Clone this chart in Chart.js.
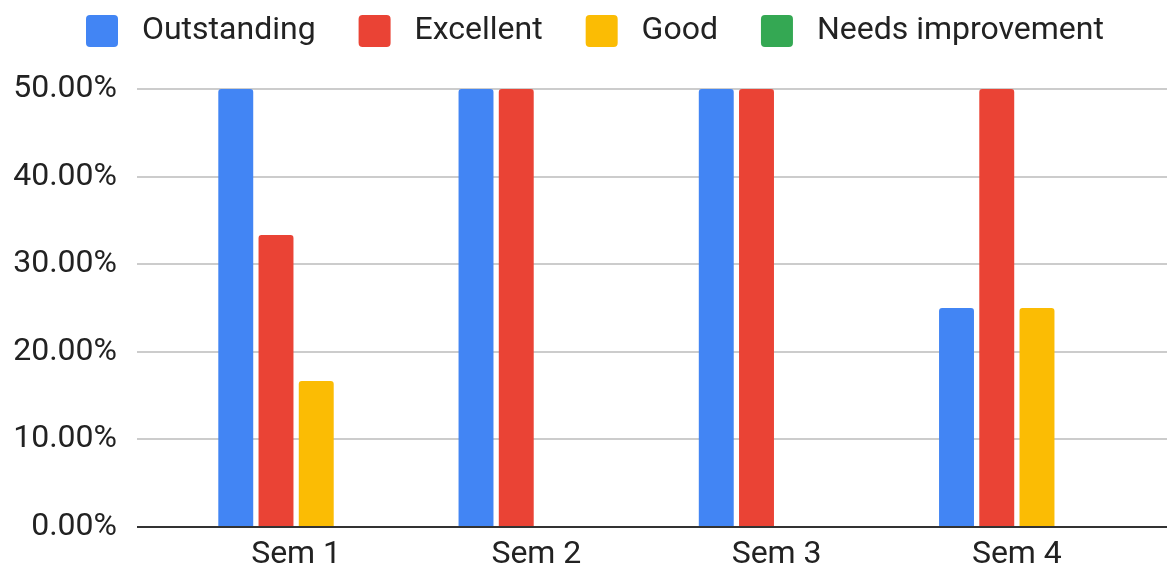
<!DOCTYPE html>
<html>
<head>
<meta charset="utf-8">
<script src="https://cdn.jsdelivr.net/npm/chart.js@4.4.0/dist/chart.umd.min.js"></script>
<style>
  html, body { margin: 0; padding: 0; background: #fff; }
  canvas { display: block; }
</style>
</head>
<body>
<canvas id="semChart" width="1167" height="571"></canvas>
<script>
// data
const categories = ['Sem 1', 'Sem 2', 'Sem 3', 'Sem 4'];
const seriesNames = ['Outstanding', 'Excellent', 'Good', 'Needs improvement'];
const outstanding = [50, 50, 50, 25];
const excellent = [33.33, 50, 50, 50];
const good = [16.67, 0, 0, 25];
const needsImprovement = [0, 0, 0, 0];
const yTicks = [0, 10, 20, 30, 40, 50];

const colors = ['#4285f4', '#ea4335', '#fbbc04', '#34a853'];
const FONT = 'Roboto, Arial, sans-serif';

// gridlines run wider than the plot, like the sheets chart
const wideGrid = {
    id: 'wideGrid',
    beforeDatasetsDraw(chart) {
        const ctx = chart.ctx, y = chart.scales.y;
        ctx.save();
        ctx.strokeStyle = '#cccccc';
        ctx.lineWidth = 2;
        yTicks.forEach(function(v) {
            if (v === 0) return;
            const py = Math.round(y.getPixelForValue(v));
            ctx.beginPath();
            ctx.moveTo(137, py);
            ctx.lineTo(chart.width, py);
            ctx.stroke();
        });
        ctx.restore();
    },
    afterDatasetsDraw(chart) {
        const ctx = chart.ctx, y = chart.scales.y;
        const py = Math.round(y.getPixelForValue(0));
        ctx.save();
        ctx.strokeStyle = '#333333';
        ctx.lineWidth = 2;
        ctx.beginPath();
        ctx.moveTo(137, py);
        ctx.lineTo(chart.width, py);
        ctx.stroke();
        ctx.restore();
    }
};

// legend: fixed height, items moved to where the sheets legend sits
const LEGEND_H = 89;
const LEGEND_DX = 43;
const LEGEND_DY = -28;
const legendFit = {
    id: 'legendFit',
    beforeInit(chart) {
        const orig = chart.legend.fit;
        chart.legend.fit = function() {
            orig.bind(chart.legend)();
            this.height = LEGEND_H;
        };
    },
    afterLayout(chart) {
        const lg = chart.legend;
        lg.top += LEGEND_DY;
        lg.bottom += LEGEND_DY;
        lg.left += LEGEND_DX;
        lg.right += LEGEND_DX;
    }
};

const seriesValues = [outstanding, excellent, good, needsImprovement];

new Chart(document.getElementById('semChart'), {
    type: 'bar',
    data: {
        labels: categories,
        datasets: seriesNames.map(function(name, i) {
            return {
                label: name,
                data: seriesValues[i],
                backgroundColor: colors[i],
                borderRadius: 3,
                categoryPercentage: 0.67,
                barPercentage: 0.868
            };
        })
    },
    options: {
        responsive: false,
        animation: false,
        layout: {
            padding: { top: 0, right: 30, bottom: 0, left: 0 }
        },
        scales: {
            x: {
                grid: { display: false, drawTicks: false },
                border: { display: false },
                ticks: {
                    color: '#222',
                    padding: 9,
                    font: { family: FONT, size: 32 }
                },
                afterFit(scale) { scale.height = 44; }
            },
            y: {
                min: 0,
                max: 50,
                // tick marks hidden, their length just spaces the labels
                grid: { display: false, drawTicks: true, tickLength: 59 },
                border: { display: false },
                afterBuildTicks(scale) {
                    scale.ticks = yTicks.map(function(v) { return { value: v }; });
                },
                ticks: {
                    color: '#222',
                    padding: 0,
                    font: { family: FONT, size: 32 },
                    callback: function(v) { return v.toFixed(2) + '%'; }
                },
                afterFit(scale) { scale.width = 176; }
            }
        },
        plugins: {
            legend: {
                position: 'top',
                align: 'start',
                labels: {
                    color: '#222',
                    boxWidth: 32,
                    boxHeight: 32,
                    useBorderRadius: true,
                    borderRadius: 4,
                    padding: 43,
                    font: { family: FONT, size: 32 },
                    generateLabels(chart) {
                        const items = Chart.defaults.plugins.legend.labels.generateLabels(chart);
                        items.forEach(function(it) { it.text = ' ' + it.text; });
                        return items;
                    }
                }
            },
            tooltip: { enabled: false }
        }
    },
    plugins: [wideGrid, legendFit]
});
</script>
</body>
</html>
